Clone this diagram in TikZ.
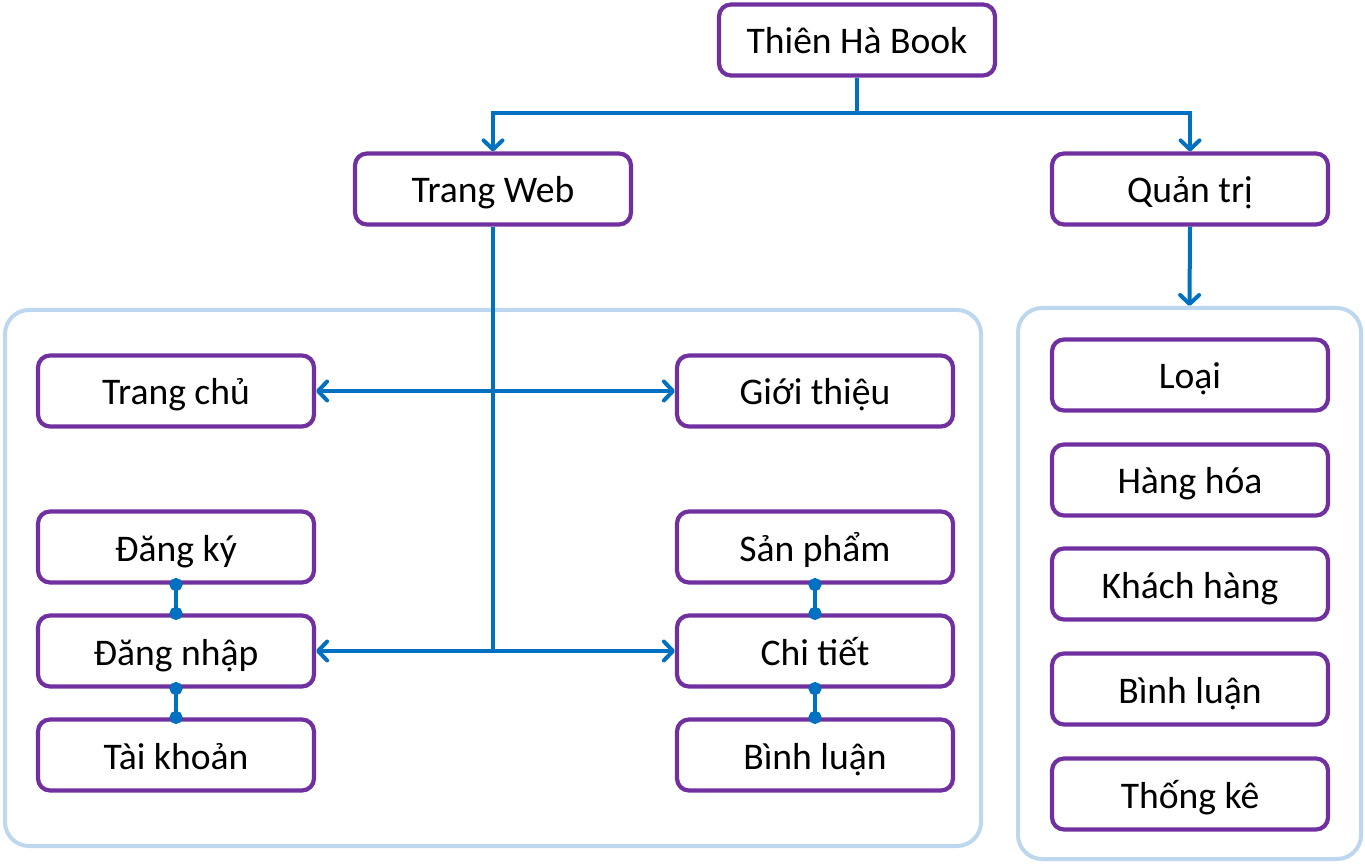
\documentclass[tikz,border=0pt]{standalone}
\usepackage{fontspec}
\setmainfont{Carlito}
\usetikzlibrary{arrows.meta}
\definecolor{boxpurple}{HTML}{7030A0}
\definecolor{linkblue}{HTML}{0070C0}
\definecolor{groupblue}{HTML}{BDD7EE}
\tikzset{
  item/.style={draw=boxpurple, line width=2.1pt, rounded corners=6pt, fill=white,
    minimum width=138pt, minimum height=35.5pt, inner sep=0pt,
    text height=16pt, text depth=2pt,
    font=\fontsize{18.8}{20}\selectfont},
  group/.style={draw=groupblue, line width=2pt, rounded corners=12pt, inner sep=0pt},
  trunk/.style={draw=linkblue, line width=2pt},
  link/.style={trunk, -{Straight Barb[length=4.5pt,width=9.5pt,line cap=round,round]}},
  joint/.style={trunk, {Circle[length=6.5pt]}-{Circle[length=6.5pt]},
    shorten <=-3.25pt, shorten >=-3.25pt}
}
\begin{document}
\begin{tikzpicture}[x=0.5pt,y=-0.5pt]
  \useasboundingbox (0,0) rectangle (1365,865);
  % groups
  \node[group, minimum width=488pt, minimum height=268pt] (webgroup) at (493,578) {};
  \node[group, minimum width=171.5pt, minimum height=275.5pt] (admingroup) at (1189.5,583.5) {};
  % top levels
  \node[item] (top) at (857,40) {Thiên Hà Book};
  \node[item] (web) at (493,189) {Trang Web};
  \node[item] (admin) at (1190,189) {Quản trị};
  % web pages
  \node[item] (home) at (176,391) {Trang chủ};
  \node[item] (about) at (815,391) {Giới thiệu};
  \node[item] (signup) at (176,547) {Đăng ký};
  \node[item] (login) at (176,651) {Đăng nhập};
  \node[item] (account) at (176,755) {Tài khoản};
  \node[item] (product) at (815,547) {Sản phẩm};
  \node[item] (detail) at (815,651) {Chi tiết};
  \node[item] (review) at (815,755) {Bình luận};
  % admin pages
  \node[item] (category) at (1190,375) {Loại};
  \node[item] (goods) at (1190,480) {Hàng hóa};
  \node[item] (customer) at (1190,584) {Khách hàng};
  \node[item] (comments) at (1190,689) {Bình luận};
  \node[item] (stats) at (1190,794) {Thống kê};
  % connectors
  \coordinate (split) at (857,113);
  \coordinate (hubtop) at (493,391);
  \coordinate (hub) at (493,651);
  \draw[trunk] (top.south) -- (split);
  \draw[link] (split) -| (web.north);
  \draw[link] (split) -| (admin.north);
  \draw[link] (admin.south) -- (admingroup.north);
  \draw[trunk] (web.south) -- (hub);
  \draw[link] (hubtop) -- (home.east);
  \draw[link] (hubtop) -- (about.west);
  \draw[link] (hub) -- (login.east);
  \draw[link] (hub) -- (detail.west);
  \draw[joint] (signup.south) -- (login.north);
  \draw[joint] (login.south) -- (account.north);
  \draw[joint] (product.south) -- (detail.north);
  \draw[joint] (detail.south) -- (review.north);
\end{tikzpicture}
\end{document}
